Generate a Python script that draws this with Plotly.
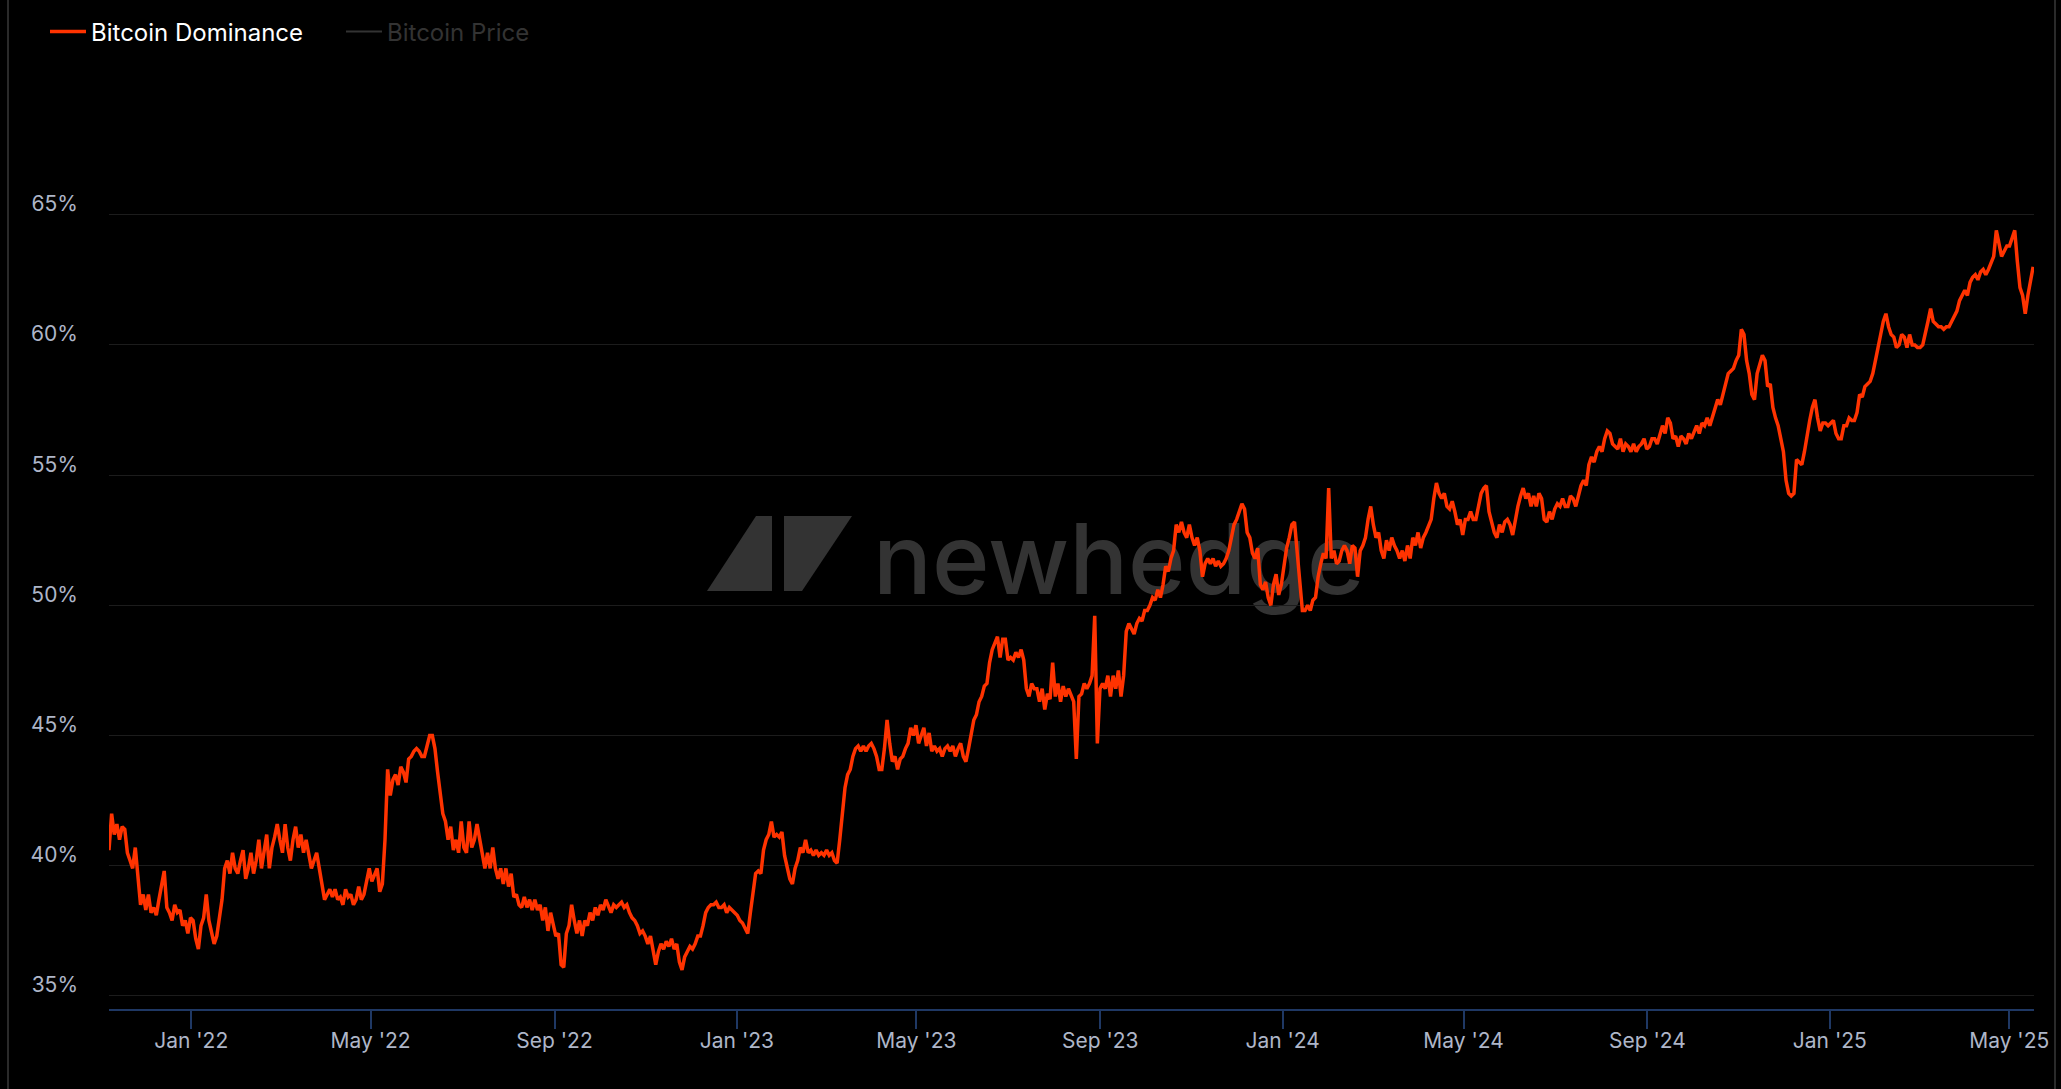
import pandas as pd
import plotly.graph_objects as go

# ---------------- data ----------------
start_date = "2021-11-07"
end_date = "2025-05-17"

btc_dominance = [
    40.6, 42.0, 41.2, 41.6, 41.0, 41.5, 41.4, 40.5, 40.2, 39.9, 40.7, 39.4, 38.5, 38.9, 38.3, 38.9, 38.2, 38.4, 38.1, 38.7,
    39.2, 39.8, 38.4, 38.2, 37.9, 38.5, 38.2, 38.3, 37.7, 37.9, 37.4, 38.0, 37.9, 37.2, 36.8, 37.7, 38.0, 38.9, 37.9, 37.4,
    37.0, 37.3, 37.9, 38.7, 39.9, 40.2, 39.7, 40.5, 39.9, 39.7, 40.2, 40.6, 39.5, 39.9, 40.5, 39.7, 40.2, 41.0, 39.9, 40.5,
    41.2, 39.9, 40.7, 41.1, 41.6, 41.0, 40.5, 41.6, 40.7, 40.2, 41.0, 41.5, 40.7, 41.2, 40.5, 41.0, 40.5, 39.9, 40.2, 40.5,
    39.9, 39.3, 38.7, 38.9, 39.1, 38.8, 39.1, 38.7, 38.8, 38.5, 39.1, 38.8, 38.9, 38.5, 38.7, 39.2, 38.7, 38.9, 39.5, 39.9,
    39.4, 39.7, 39.9, 39.0, 39.3, 41.0, 43.7, 42.7, 43.3, 43.5, 43.1, 43.8, 43.6, 43.2, 44.1, 44.2, 44.4, 44.5, 44.4, 44.2,
    44.2, 44.6, 45.0, 45.0, 44.5, 43.6, 42.7, 42.0, 41.7, 41.0, 41.5, 40.6, 41.0, 40.5, 41.7, 40.7, 40.5, 41.7, 40.7, 41.0,
    41.6, 41.0, 40.6, 39.9, 40.5, 39.9, 40.7, 39.9, 39.5, 39.9, 39.3, 39.9, 39.2, 39.7, 38.8, 38.9, 38.5, 38.4, 38.8, 38.4,
    38.7, 38.3, 38.7, 38.3, 38.5, 37.9, 38.4, 37.5, 38.2, 37.7, 37.3, 37.4, 36.2, 36.1, 37.4, 37.7, 38.5, 37.9, 37.4, 37.9,
    37.3, 37.9, 37.7, 38.2, 37.9, 38.4, 38.1, 38.5, 38.3, 38.7, 38.4, 38.2, 38.5, 38.4, 38.5, 38.6, 38.4, 38.5, 38.2, 38.0,
    37.9, 37.7, 37.4, 37.5, 37.3, 37.0, 37.3, 36.8, 36.2, 36.7, 37.0, 36.8, 37.1, 36.9, 37.2, 36.8, 37.0, 36.3, 36.0, 36.5,
    36.7, 36.9, 36.8, 37.0, 37.3, 37.3, 37.7, 38.2, 38.4, 38.5, 38.5, 38.6, 38.4, 38.4, 38.5, 38.2, 38.4, 38.3, 38.2, 38.1,
    37.9, 37.8, 37.6, 37.4, 38.2, 38.9, 39.7, 39.8, 39.7, 40.6, 41.0, 41.2, 41.7, 41.1, 41.2, 41.1, 41.3, 40.4, 39.9, 39.5,
    39.3, 39.9, 40.2, 40.7, 40.5, 41.0, 40.5, 40.6, 40.4, 40.6, 40.4, 40.5, 40.4, 40.6, 40.4, 40.5, 40.2, 40.1, 41.0, 42.2,
    43.0, 43.5, 43.7, 44.2, 44.5, 44.6, 44.4, 44.6, 44.4, 44.6, 44.7, 44.5, 44.2, 43.7, 43.7, 44.5, 45.6, 44.7, 44.0, 44.2,
    43.7, 44.1, 44.2, 44.5, 44.7, 45.3, 45.0, 45.4, 44.7, 45.0, 45.3, 44.6, 45.1, 44.4, 44.6, 44.4, 44.5, 44.2, 44.5, 44.6,
    44.4, 44.6, 44.2, 44.5, 44.7, 44.2, 44.0, 44.5, 45.0, 45.6, 45.8, 46.3, 46.5, 46.9, 47.0, 47.8, 48.3, 48.6, 48.8, 48.0,
    48.7, 48.7, 47.9, 48.0, 47.9, 48.2, 48.0, 48.3, 47.9, 46.8, 46.5, 47.0, 46.8, 46.8, 46.3, 46.8, 46.0, 46.6, 46.4, 47.8,
    46.5, 47.0, 46.3, 46.9, 46.5, 46.8, 46.5, 46.3, 44.1, 46.5, 46.6, 47.0, 46.8, 47.0, 47.3, 49.6, 44.7, 46.8, 47.0, 46.8,
    47.3, 46.5, 47.3, 46.8, 47.5, 46.5, 47.3, 49.0, 49.3, 49.1, 48.9, 49.3, 49.5, 49.4, 49.8, 49.8, 50.0, 50.3, 50.2, 50.6,
    50.3, 50.8, 51.5, 51.3, 51.8, 52.1, 53.1, 52.8, 53.2, 52.8, 52.6, 53.1, 52.6, 52.3, 52.6, 52.1, 51.1, 51.6, 51.8, 51.6,
    51.8, 51.5, 51.7, 51.5, 51.6, 51.8, 52.1, 52.6, 53.1, 53.3, 53.6, 53.9, 53.7, 52.8, 52.6, 52.0, 51.8, 52.2, 50.8, 50.6,
    50.9, 50.3, 50.0, 50.8, 51.2, 50.4, 50.8, 51.6, 52.2, 52.6, 53.1, 53.2, 52.1, 50.8, 49.8, 49.8, 50.0, 49.8, 50.2, 50.3,
    51.1, 51.6, 52.0, 51.8, 54.5, 51.8, 52.1, 51.6, 51.7, 52.1, 52.3, 52.1, 51.6, 52.3, 52.2, 51.1, 52.1, 52.3, 52.6, 53.3,
    53.8, 53.1, 52.6, 52.8, 52.1, 51.8, 52.5, 52.1, 52.6, 52.3, 52.1, 51.8, 52.1, 51.7, 52.3, 51.8, 52.6, 52.3, 52.8, 52.2,
    52.6, 52.8, 53.1, 53.3, 54.1, 54.7, 54.3, 54.1, 54.3, 53.8, 53.7, 54.0, 53.6, 53.1, 53.3, 52.7, 53.3, 53.3, 53.6, 53.3,
    53.3, 53.8, 54.3, 54.5, 54.6, 53.6, 53.2, 52.8, 52.6, 53.1, 52.8, 53.2, 53.3, 53.1, 52.7, 53.3, 53.8, 54.2, 54.5, 54.1,
    54.3, 53.8, 54.2, 53.8, 54.3, 54.1, 53.3, 53.2, 53.6, 53.3, 53.7, 53.9, 53.8, 54.1, 53.8, 53.8, 54.2, 54.1, 53.8, 54.2,
    54.6, 54.8, 54.6, 55.4, 55.7, 55.5, 55.9, 56.1, 55.9, 56.4, 56.7, 56.6, 56.2, 56.1, 56.0, 56.4, 55.9, 56.2, 56.1, 55.9,
    56.2, 55.9, 56.1, 56.2, 56.4, 56.0, 56.1, 56.4, 56.4, 56.2, 56.6, 56.9, 56.6, 57.2, 57.0, 56.4, 56.5, 56.1, 56.5, 56.4,
    56.2, 56.6, 56.4, 56.7, 56.9, 56.6, 57.0, 56.9, 57.2, 56.9, 57.2, 57.6, 57.9, 57.7, 58.1, 58.4, 58.9, 59.0, 59.1, 59.4,
    59.6, 60.6, 60.4, 59.4, 58.9, 58.1, 57.9, 58.9, 59.2, 59.6, 59.4, 58.4, 58.5, 57.6, 57.2, 56.9, 56.4, 55.9, 54.8, 54.3,
    54.2, 54.3, 55.6, 55.5, 55.4, 55.9, 56.6, 57.1, 57.6, 57.9, 57.2, 56.7, 57.0, 57.0, 56.9, 57.0, 57.1, 56.6, 56.4, 56.4,
    56.9, 56.9, 57.2, 57.1, 57.1, 57.4, 58.1, 58.0, 58.4, 58.5, 58.6, 58.9, 59.5, 59.9, 60.4, 60.9, 61.2, 60.7, 60.4, 60.3,
    59.9, 60.0, 60.4, 60.3, 59.9, 60.4, 60.0, 60.0, 59.9, 59.9, 60.0, 60.4, 60.9, 61.4, 60.9, 60.8, 60.7, 60.7, 60.6, 60.7,
    60.7, 60.9, 61.1, 61.3, 61.7, 61.9, 62.1, 61.9, 62.4, 62.6, 62.7, 62.5, 62.8, 62.9, 62.7, 62.9, 63.2, 63.4, 64.4, 63.9,
    63.4, 63.6, 63.8, 63.8, 64.1, 64.4, 63.2, 62.2, 61.9, 61.2, 61.9, 62.4, 63.0,
]

# Bitcoin Price is toggled off in the reference (legend entry only, no visible values)
btc_price = [None]

y_tick_values = [35, 40, 45, 50, 55, 60, 65, 70]
y_tick_labels = ["35%", "40%", "45%", "50%", "55%", "60%", "65%", ""]

series_names = ["Bitcoin Dominance", "Bitcoin Price"]

dates = pd.date_range(start_date, end_date, periods=len(btc_dominance))

# ---------------- layout geometry ----------------
W, H = 2061, 1089
ML, MR, MT, MB = 109, 27, 84, 80
PW, PH = W - ML - MR, H - MT - MB


def px(xp):
    return (xp - ML) / PW


def py(yp):
    return (H - MB - yp) / PH


fig = go.Figure()

fig.add_trace(go.Scatter(
    x=dates, y=btc_dominance, name=series_names[0], mode="lines",
    line=dict(color="#ff3300", width=3.5), legend="legend",
))
fig.add_trace(go.Scatter(
    x=dates[:len(btc_price)], y=btc_price, name=series_names[1], mode="lines",
    line=dict(color="#666666", width=2), visible="legendonly", legend="legend2",
))

WM = "#333333"
shapes = [
    # watermark logo
    dict(type="path", xref="paper", yref="paper", layer="below", fillcolor=WM, line=dict(width=0),
         path=f"M {px(707)},{py(591)} L {px(772)},{py(591)} L {px(772)},{py(516)} L {px(756)},{py(516)} Z"),
    dict(type="path", xref="paper", yref="paper", layer="below", fillcolor=WM, line=dict(width=0),
         path=f"M {px(784)},{py(591)} L {px(802)},{py(591)} L {px(852)},{py(516)} L {px(784)},{py(516)} Z"),
    # watermark text
    dict(type="rect", xref="paper", yref="paper", layer="below", line=dict(width=0),
         fillcolor="rgba(0,0,0,0)",
         x0=px(870), x1=px(1400), y0=py(605), y1=py(505),
         label=dict(text="newhedge", textposition="middle left", padding=0,
                    font=dict(family="Inter", size=98, color=WM, weight=500))),
    # panel borders
    dict(type="line", xref="paper", yref="paper", x0=px(8), x1=px(8), y0=py(H), y1=py(0),
         line=dict(color="#2a2a2a", width=2)),
    dict(type="line", xref="paper", yref="paper", x0=px(2055), x1=px(2055), y0=py(H), y1=py(0),
         line=dict(color="#2a2a2a", width=2)),
]

fig.update_layout(
    width=W, height=H,
    margin=dict(l=ML, r=MR, t=MT, b=MB, pad=0),
    paper_bgcolor="#000000", plot_bgcolor="#000000",
    font=dict(family="Inter", color="#aeb6c8", size=21),
    showlegend=True,
    legend=dict(orientation="h", xref="container", yref="container",
                x=45 / W, y=1 - 32 / H, xanchor="left", yanchor="middle",
                font=dict(family="Inter", size=24, color="#ffffff"),
                bgcolor="rgba(0,0,0,0)", itemwidth=36, itemclick=False, itemdoubleclick=False),
    legend2=dict(orientation="h", xref="container", yref="container",
                 x=341 / W, y=1 - 32 / H, xanchor="left", yanchor="middle",
                 font=dict(family="Inter", size=24, color="#666666"),
                 bgcolor="rgba(0,0,0,0)", itemwidth=36, itemclick=False, itemdoubleclick=False),
    shapes=shapes,
    hovermode=False,
)

fig.update_xaxes(
    type="date",
    range=["2021-11-07", "2025-05-17 14:00"],
    tick0="2022-01-01", dtick="M4", tickformat="%b '%y",
    ticks="outside", ticklen=18, tickwidth=2, tickcolor="#1f3864",
    showline=True, linecolor="#1f3864", linewidth=2,
    showgrid=False, zeroline=False,
    ticklabelstandoff=-6,
    tickfont=dict(family="Inter", size=21, color="#aeb6c8"),
)

fig.update_yaxes(
    range=[34.5, 70.02],
    tickmode="array", tickvals=y_tick_values, ticktext=y_tick_labels,
    ticks="", showgrid=True, gridcolor="#1c1c1c", gridwidth=1,
    zeroline=False, showline=False,
    ticklabelstandoff=30, ticklabelshift=-11,
    tickfont=dict(family="Inter", size=21, color="#aeb6c8"),
)

fig.write_html(
    "out.html",
    config={"displayModeBar": False},
    post_script="document.body.style.margin='0';document.body.style.overflow='hidden';",
)
